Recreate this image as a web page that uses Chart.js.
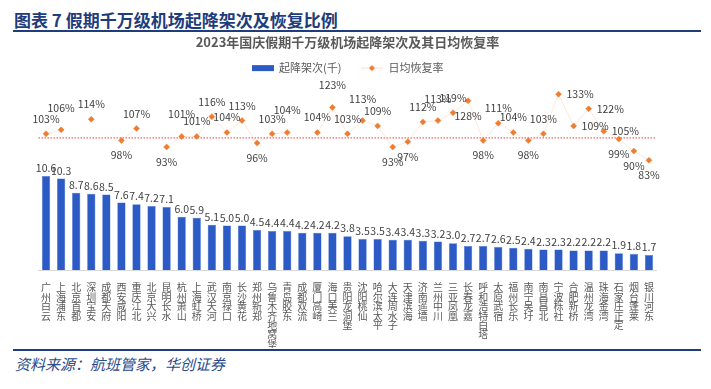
<!DOCTYPE html>
<html lang="zh-CN">
<head>
<meta charset="utf-8">
<title>假期千万级机场起降架次及恢复比例</title>
<script src="https://cdn.jsdelivr.net/npm/chart.js@4.4.1/dist/chart.umd.min.js"></script>
<style>
  html, body { margin: 0; padding: 0; background: #fff; }
  body { width: 711px; height: 389px; position: relative; overflow: hidden; font-family: "Noto Sans CJK SC", "Noto Sans", sans-serif; }
  .fig-title { position: absolute; left: 14px; top: 7px; font-size: 17px; font-weight: bold; color: #1f3c7c; white-space: nowrap; }
  .rule { position: absolute; left: 13px; width: 688px; height: 2px; background: #1f3c7c; }
  .source { position: absolute; left: 15px; top: 353px; font-size: 15px; font-style: italic; color: #2a4a8a; white-space: nowrap; }
  #chartBox { position: absolute; left: 0; top: 34px; width: 711px; height: 314px; }
</style>
</head>
<body>
<div class="fig-title">图表 7 假期千万级机场起降架次及恢复比例</div>
<div class="rule" style="top:30px"></div>
<div id="chartBox"><canvas id="mainChart"></canvas></div>
<div class="rule" style="top:349px"></div>
<div class="source">资料来源：航班管家，华创证券</div>

<script>
// data
const airports = ['广州白云', '上海浦东', '北京首都', '深圳宝安', '成都天府', '西安咸阳', '重庆江北', '北京大兴', '昆明长水', '杭州萧山',
    '上海虹桥', '武汉天河', '南京禄口', '长沙黄花', '郑州新郑', '乌鲁木齐地窝堡', '青岛胶东', '成都双流', '厦门高崎', '海口美兰',
    '贵阳龙洞堡', '沈阳桃仙', '哈尔滨太平', '大连周水子', '天津滨海', '济南遥墙', '兰州中川', '三亚凤凰', '长春龙嘉', '呼和浩特白塔',
    '太原武宿', '福州长乐', '南宁吴圩', '南昌昌北', '宁波栎社', '合肥新桥', '温州龙湾', '珠海金湾', '石家庄正定', '烟台蓬莱', '银川河东'];

// 起降架次 (千)
const movements = [10.6, 10.3, 8.7, 8.6, 8.5, 7.6, 7.4, 7.2, 7.1, 6.0,
    5.9, 5.1, 5.0, 5.0, 4.5, 4.4, 4.4, 4.2, 4.2, 4.2,
    3.8, 3.5, 3.5, 3.4, 3.4, 3.3, 3.2, 3.0, 2.7, 2.7,
    2.6, 2.5, 2.4, 2.3, 2.3, 2.2, 2.2, 2.2, 1.9, 1.8, 1.7];

// 日均恢复率 (%), null = no point in the original
const recoveryPct = [103, 106, null, 114, null, 98, 107, null, 93, 101,
    101, 116, 104, 113, 96, 103, 104, null, 104, 123,
    103, 113, 109, 93, 97, 112, 113, 119, 128, 98,
    111, 104, 98, 103, 133, 109, 122, 105, 99, 90, 83];

// where each percent label sits: a = above, h = higher above, b = below, r = right
const pctLabelPos = ['a', 'h', null, 'a', null, 'b', 'a', null, 'b', 'h',
    'a', 'a', 'a', 'a', 'b', 'a', 'h', null, 'a', 'h',
    'a', 'h', 'a', 'b', 'b', 'a', 'h', 'a', 'b', 'b',
    'a', 'a', 'b', 'a', 'r', 'r', 'r', 'r', 'b', 'b', 'b'];

const BAR_BLUE = '#2c5bc5';
const DOT_ORANGE = '#ed7d31';
const FONT = '"Noto Sans CJK SC", "Noto Sans", sans-serif';

// legend swatches (wide blue bar, small orange diamond)
function makeSwatch(kind) {
    const c = document.createElement('canvas');
    c.width = 22; c.height = 8;
    const g = c.getContext('2d');
    if (kind === 'bar') {
        g.fillStyle = BAR_BLUE;
        g.fillRect(0, 1, 22, 6);
    } else {
        g.strokeStyle = 'rgba(237,125,49,0.25)';
        g.beginPath(); g.moveTo(0, 4); g.lineTo(22, 4); g.stroke();
        g.fillStyle = DOT_ORANGE;
        g.beginPath(); g.moveTo(11, 1); g.lineTo(14, 4); g.lineTo(11, 7); g.lineTo(8, 4); g.closePath(); g.fill();
    }
    return c;
}

// dotted 100% guide across the plot
const refLinePlugin = {
    id: 'refLine',
    beforeDatasetsDraw(chart) {
        const { ctx, chartArea, scales } = chart;
        const y = scales.y1.getPixelForValue(100);
        ctx.save();
        ctx.strokeStyle = '#ff6161';
        ctx.lineWidth = 1.3;
        ctx.setLineDash([1.5, 1.5]);
        ctx.beginPath();
        ctx.moveTo(chartArea.left, y);
        ctx.lineTo(chartArea.right, y);
        ctx.stroke();
        ctx.restore();
    }
};

// value labels on bars and points
const valueLabelPlugin = {
    id: 'valueLabels',
    afterDatasetsDraw(chart) {
        const ctx = chart.ctx;
        ctx.save();
        ctx.font = '10.5px ' + FONT;
        ctx.fillStyle = '#404040';
        ctx.textAlign = 'center';
        ctx.textBaseline = 'alphabetic';
        chart.getDatasetMeta(0).data.forEach((bar, i) => {
            ctx.fillText(movements[i].toFixed(1), bar.x, bar.y - 4);
        });

        ctx.textBaseline = 'middle';
        chart.getDatasetMeta(1).data.forEach((pt, i) => {
            const v = recoveryPct[i];
            if (v === null) return;
            let x = pt.x, y = pt.y;
            ctx.textAlign = 'center';
            switch (pctLabelPos[i]) {
                case 'h': y -= 22; break;
                case 'b': y += 15; break;
                case 'r': x += 8; ctx.textAlign = 'left'; break;
                default: y -= 15;
            }
            ctx.fillText(v + '%', x, y);
        });
        ctx.restore();
    }
};

const ctx = document.getElementById('mainChart');
const chart = new Chart(ctx, {
    data: {
        labels: airports.map(name => name.split('')),
        datasets: [{
            type: 'bar',
            label: '起降架次(千)     ',
            data: movements,
            yAxisID: 'y',
            backgroundColor: BAR_BLUE,
            borderColor: '#4d78d6',
            borderWidth: 0.5,
            barPercentage: 0.55,
            categoryPercentage: 1,
            order: 2
        }, {
            type: 'line',
            label: '日均恢复率',
            data: recoveryPct,
            yAxisID: 'y1',
            borderColor: 'rgba(237,125,49,0.18)',
            borderWidth: 1,
            spanGaps: false,
            pointStyle: 'rectRot',
            pointRadius: 3,
            pointBackgroundColor: DOT_ORANGE,
            pointBorderColor: DOT_ORANGE,
            pointBorderWidth: 0.5,
            clip: false,
            order: 1
        }]
    },
    options: {
        responsive: true,
        maintainAspectRatio: false,
        animation: false,
        layout: { padding: { left: 38.5, right: 54.5, top: 0, bottom: 0 } },
        plugins: {
            title: {
                display: true,
                text: '2023年国庆假期千万级机场起降架次及其日均恢复率',
                color: '#595959',
                font: { family: FONT, size: 13, weight: 'bold' },
                padding: { top: 0, bottom: 6 }
            },
            legend: {
                position: 'top',
                labels: {
                    usePointStyle: true,
                    pointStyleWidth: 22,
                    color: '#595959',
                    font: { family: FONT, size: 11 },
                    padding: 7,
                    generateLabels(chart) {
                        return chart.data.datasets.map((ds, i) => ({
                            text: ds.label,
                            datasetIndex: i,
                            fontColor: '#595959',
                            hidden: false,
                            lineWidth: 0,
                            pointStyle: makeSwatch(i === 0 ? 'bar' : 'line')
                        }));
                    }
                }
            },
            tooltip: { enabled: false }
        },
        scales: {
            x: {
                grid: { display: false },
                border: { display: true, color: '#d9d9d9' },
                ticks: {
                    color: '#595959',
                    font: { family: FONT, size: 10, lineHeight: 0.94 },
                    maxRotation: 0,
                    minRotation: 0,
                    autoSkip: false,
                    padding: 5
                },
                afterFit(scale) { scale.height = 78; }
            },
            y: { display: false, min: 0, max: 21 },
            y1: { display: false, min: 0, max: 141, position: 'right' }
        }
    },
    plugins: [refLinePlugin, valueLabelPlugin]
});
</script>
</body>
</html>
